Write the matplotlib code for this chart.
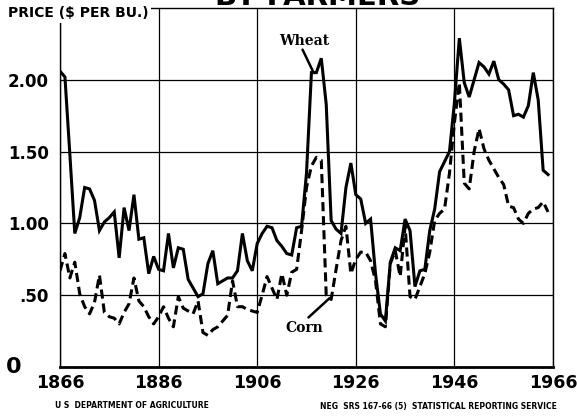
import matplotlib
matplotlib.use("Agg")
import matplotlib.pyplot as plt

# --- data (dollars per bushel) ---
years = list(range(1866, 1966))

wheat = [2.06, 2.02, 1.48, 0.93, 1.04, 1.25, 1.24, 1.16, 0.95, 1.01,
         1.04, 1.08, 0.76, 1.11, 0.95, 1.20, 0.89, 0.90, 0.65, 0.77,
         0.68, 0.67, 0.93, 0.69, 0.83, 0.82, 0.61, 0.55, 0.49, 0.51,
         0.72, 0.81, 0.58, 0.60, 0.62, 0.62, 0.67, 0.93, 0.74, 0.67,
         0.86, 0.93, 0.98, 0.97, 0.88, 0.84, 0.79, 0.78, 0.97, 0.98,
         1.35, 2.05, 2.05, 2.15, 1.83, 1.02, 0.96, 0.93, 1.25, 1.42,
         1.20, 1.17, 1.00, 1.03, 0.65, 0.37, 0.32, 0.73, 0.83, 0.81,
         1.03, 0.95, 0.56, 0.67, 0.68, 0.95, 1.10, 1.36, 1.43, 1.50,
         1.84, 2.29, 1.98, 1.88, 2.00, 2.12, 2.09, 2.04, 2.13, 2.00,
         1.97, 1.93, 1.75, 1.76, 1.74, 1.82, 2.05, 1.86, 1.37, 1.34]

corn = [0.67, 0.79, 0.62, 0.73, 0.51, 0.42, 0.37, 0.45, 0.64, 0.38,
        0.35, 0.34, 0.30, 0.38, 0.44, 0.62, 0.46, 0.42, 0.35, 0.30,
        0.35, 0.42, 0.34, 0.28, 0.49, 0.41, 0.39, 0.37, 0.46, 0.24,
        0.22, 0.26, 0.28, 0.32, 0.36, 0.60, 0.42, 0.42, 0.40, 0.39,
        0.38, 0.50, 0.63, 0.55, 0.47, 0.65, 0.50, 0.66, 0.68, 0.95,
        1.25, 1.40, 1.46, 1.44, 0.50, 0.47, 0.68, 0.88, 0.98, 0.65,
        0.75, 0.80, 0.80, 0.74, 0.60, 0.30, 0.28, 0.72, 0.81, 0.63,
        0.98, 0.49, 0.47, 0.56, 0.65, 0.80, 1.02, 1.07, 1.10, 1.35,
        1.70, 1.98, 1.28, 1.24, 1.50, 1.66, 1.52, 1.44, 1.38, 1.32,
        1.27, 1.12, 1.11, 1.03, 1.00, 1.07, 1.10, 1.11, 1.15, 1.08]

xticks = [1866, 1886, 1906, 1926, 1946, 1966]
yticks = [0.5, 1.0, 1.5, 2.0]
ylabels = [".50", "1.00", "1.50", "2.00"]

FONT = "Liberation Sans Narrow"

fig = plt.figure(figsize=(5.77, 4.17), dpi=100)
ax = fig.add_axes([60/577, 1 - 367/417, 493/577, 359/417])

ax.plot(years, wheat, color="black", lw=2.2, solid_joinstyle="miter")
ax.plot(years, corn, color="black", lw=2.2, dashes=(3, 1.6))

ax.set_xlim(1866, 1966)
ax.set_ylim(0, 2.5)
ax.set_xticks(xticks)
ax.set_yticks(yticks)
ax.set_xticklabels([str(t) for t in xticks], fontfamily=FONT,
                   fontweight="bold", fontsize=12.5)
ax.set_yticklabels(ylabels, fontfamily=FONT, fontweight="bold", fontsize=12)
ax.tick_params(axis="x", length=0, pad=5)
ax.tick_params(axis="y", length=0, pad=8)
ax.grid(True, color="black", lw=0.9)
for s in ax.spines.values():
    s.set_linewidth(1.0)
ax.spines["bottom"].set_linewidth(2.0)

# "0" sits off to the lower left of the axis
ax.text(-0.078, 0.0, "0", transform=ax.transAxes, ha="right", va="center",
        fontfamily=FONT, fontweight="bold", fontsize=16)

# series labels with pointer lines
ax.text(1915.6, 2.27, "Wheat", ha="center", va="center",
        fontfamily="DejaVu Serif", fontweight="bold", fontsize=10)
ax.annotate("", xy=(1917.3, 2.06), xytext=(1915.2, 2.21),
            arrowprops=dict(arrowstyle="-", lw=1.8, color="black",
                            shrinkA=0, shrinkB=0))
ax.text(1915.6, 0.275, "Corn", ha="center", va="center",
        fontfamily="DejaVu Serif", fontweight="bold", fontsize=10)
ax.annotate("", xy=(1920.7, 0.48), xytext=(1916.4, 0.345),
            arrowprops=dict(arrowstyle="-", lw=1.8, color="black",
                            shrinkA=0, shrinkB=0))

# axis title covering the top-left corner of the frame
fig.text(8/577, 1 - 13/417, "PRICE ($ PER BU.)", ha="left", va="center",
         fontfamily=FONT, fontweight="bold", fontsize=10,
         bbox=dict(facecolor="white", edgecolor="none", pad=2))

# clipped title at the very top
fig.text(318/577, 1 - 5/417, "BY FARMERS", ha="center", va="baseline",
         fontfamily=FONT, fontweight="bold", fontsize=21)

fig.text(55/577, 1 - 406/417, "U S  DEPARTMENT OF AGRICULTURE", ha="left",
         va="center", fontfamily=FONT, fontweight="bold", fontsize=5.5)
fig.text(557/577, 1 - 406/417,
         "NEG  SRS 167-66 (5)  STATISTICAL REPORTING SERVICE", ha="right",
         va="center", fontfamily=FONT, fontweight="bold", fontsize=5.5)

fig.savefig("out.png", dpi=100)
